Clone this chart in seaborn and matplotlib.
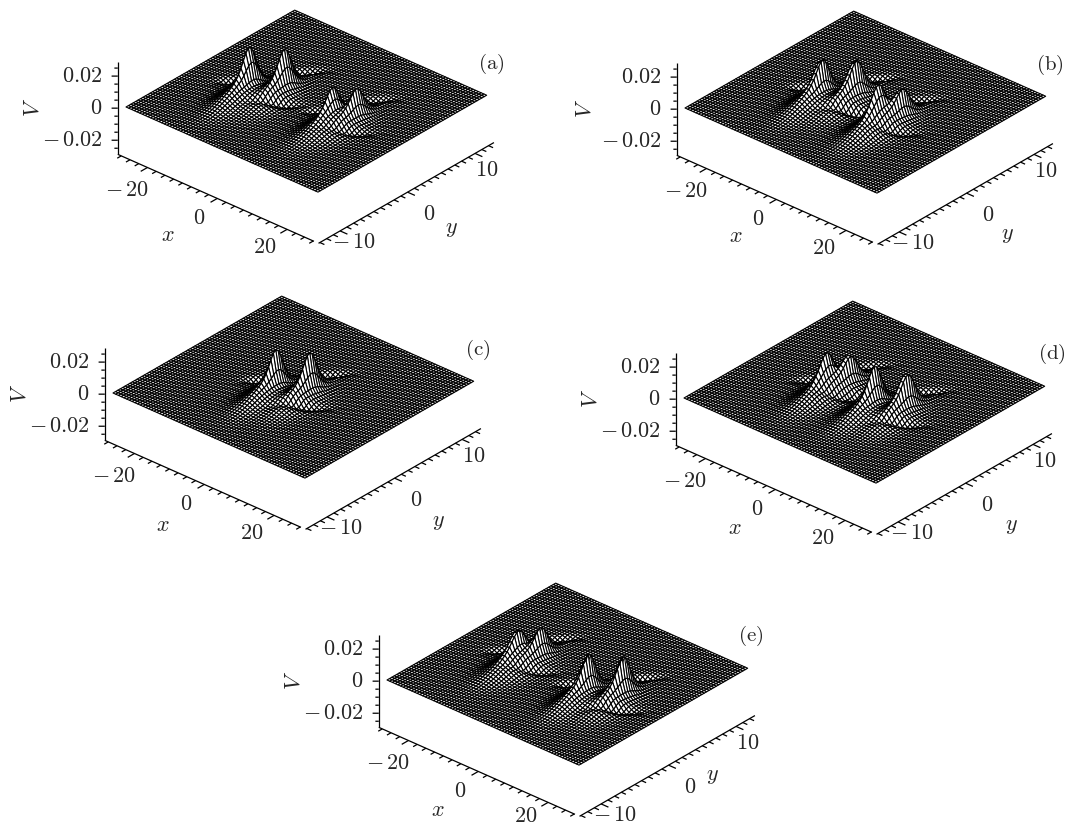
import numpy as np
import seaborn as sns
import matplotlib.pyplot as plt
from mpl_toolkits.mplot3d import proj3d

W_PX, H_PX = 1068, 825

# hump positions (x, y) and heights
# the plotted grid itself is not recoverable from the picture, so the sheet is
# rebuilt from these readings with a simple hump shape (an approximation)
panel_names = ["(a)", "(b)", "(c)", "(d)", "(e)"]
hump_x = [
    [-11.7, -6.3, 10.2, 13.2],
    [-8.2, -2.7, 8.7, 10.7],
    [-1.7, 4.6],
    [-6.35, -4.3, 6.2, 12.2],
    [-11.4, -8.8, 9.2, 15.5],
]
hump_y = [
    [-2.3, 0.07, -1.35, 0.6],
    [-2.2, 0.0, -2.5, -0.1],
    [-1.7, 0.05],
    [-2.3, 0.08, -1.65, 0.0],
    [-1.45, 0.6, -1.7, 0.2],
]
hump_v = [
    [0.030, 0.0285, 0.021, 0.021],
    [0.0285, 0.0285, 0.0235, 0.022],
    [0.0285, 0.0285],
    [0.022, 0.022, 0.0285, 0.0285],
    [0.021, 0.021, 0.029, 0.029],
]
# left corner of each sheet, tags and axis letters, in pixels
left_corner = [(126, 107), (685, 108), (113, 393), (684, 398), (387, 680)]
tag_pos = [(491, 64), (1050, 65), (478, 350), (1052, 354), (751, 636)]
x_letter = [(168, 235), (736, 236), (163, 525), (735, 528), (438, 810)]
y_letter = [(451, 229), (1007, 235), (438, 522), (1011, 526), (712, 776)]
v_letter = [(33, 107), (585, 108), (20, 393), (591, 398), (294, 680)]

x_major = [-20, 0, 20]
y_major = [-10, 0, 10]
z_major = [-0.02, 0, 0.02]
x_minor = np.arange(-27.5, 27.6, 2.5)
y_minor = np.arange(-13, 12.6, 1.0)
z_minor = np.arange(-0.025, 0.0251, 0.005)

# where the tick numbers sit relative to their ticks
x_label_x = [-20, 0.6, 19.4]
x_label_z = [-0.036, -0.0335, -0.033]
y_label_x = [33, 35.3, 32.4]
y_label_z = [-0.032, -0.0365, -0.036]
bottom_lift = [0, 0, 0, 0, 0.002]

XLIM = (-27.5, 27.5)
YLIM = (-12.5, 12.5)
ZLIM = (-0.0288, 0.0288)
X_AXIS = (-28.5, 27.7)
Y_AXIS = (-13.2, 12.8)
Y_AT = -13.2
X_AT = 29.0


def dip(dx, dy, at_x, at_y, long, thin):
    # trough lying along the horizontal of the picture
    a = 0.91 * (dx - at_x) + 0.41 * (dy - at_y)
    b = -0.41 * (dx - at_x) + 0.91 * (dy - at_y)
    return np.exp(-((a / long) ** 2) - ((b / thin) ** 2))


def hump(X, Y, cx, cy, v, right):
    dx = X - cx
    dy = Y - cy
    spike = 1 / np.cosh(dx / 0.95) ** 2 / np.cosh(dy / 1.35) ** 2
    base = np.exp(-((dx / 3.2) ** 2) - ((dy + 2.0) / 3.2) ** 2)
    if right:
        lows = dip(dx, dy, 2.6, -3.0, 4.0, 0.6) + dip(dx, dy, -2.3, 4.0, 3.0, 0.6)
    else:
        lows = dip(dx, dy, -6.0, 0.5, 2.2, 0.6)
    return v * (0.74 * spike + 0.26 * base - 0.10 * lows)


def sheet(xs, ys, vs):
    X, Y = np.meshgrid(np.linspace(*XLIM, 71), np.linspace(*YLIM, 71))
    Z = np.zeros_like(X)
    for k, (cx, cy, v) in enumerate(zip(xs, ys, vs)):
        Z += hump(X, Y, cx, cy, v, k % 2 == 1)
    return X, Y, Z


def to_px(ax, x, y, z):
    px, py, _ = proj3d.proj_transform(x, y, z, ax.get_proj())
    return ax.transData.transform((px, py))


def place(ax, left):
    # scale, then shift, so the sheet corner lands on the reference pixel
    start = to_px(ax, XLIM[0], YLIM[0], 0)
    end = to_px(ax, XLIM[1], YLIM[0], 0)
    zoom = 192.0 / (end[0] - start[0])
    ax.set_box_aspect((1, 1, 0.4185), zoom=zoom)
    start = to_px(ax, XLIM[0], YLIM[0], 0)
    pos = ax.get_position()
    ax.set_position([
        pos.x0 + (left[0] - start[0]) / W_PX,
        pos.y0 + (H_PX - left[1] - start[1]) / H_PX,
        pos.width, pos.height,
    ])


def label(ax, x, y, z, s, **kw):
    px = to_px(ax, x, y, z)
    fig.text(px[0] / W_PX, px[1] / H_PX, s, va="center", fontsize=16, **kw)


def letter(pos, s, **kw):
    fig.text(pos[0] / W_PX, 1 - pos[1] / H_PX, s, ha="center", va="center", **kw)


def axes_frame(ax):
    style = dict(color="black", lw=0.9, solid_capstyle="butt")
    zb = ZLIM[0]
    ax.plot(X_AXIS, [Y_AT, Y_AT], [zb, zb], **style)
    ax.plot([X_AT, X_AT], Y_AXIS, [zb, zb], **style)
    ax.plot([X_AXIS[0]] * 2, [Y_AT] * 2, [ZLIM[0], ZLIM[1]], **style)
    for t in x_minor:
        ln = 1.0 if t in x_major else 0.6
        ax.plot([t, t], [Y_AT, Y_AT - ln], [zb, zb], **style)
    for t in y_minor:
        ln = 2.1 if t in y_major else 1.3
        ax.plot([X_AT, X_AT + ln], [t, t], [zb, zb], **style)
    for t in list(z_minor):
        ln = 1.0 if round(t, 3) in z_major else 0.55
        ax.plot([X_AXIS[0], X_AXIS[0] - ln], [Y_AT, Y_AT - 0.4 * ln], [t, t], **style)


def axes_labels(ax, i):
    for t, lx, lz in zip(x_major, x_label_x, x_label_z):
        lab = rf"$-\,{-t}$" if t < 0 else rf"${t}$"
        label(ax, lx, -16.2, lz + (bottom_lift[i] if t > 0 else 0), lab, ha="center")
    for t, lx, lz in zip(y_major, y_label_x, y_label_z):
        lab = rf"$-\,{-t}$" if t < 0 else rf"${t}$"
        label(ax, lx, t, lz, lab, ha="center")
    for t in z_major:
        lab = r"$-\,0.02$" if t < 0 else (r"$0$" if t == 0 else r"$0.02$")
        label(ax, -30.9, -14.2, t, lab, ha="right")
    letter(x_letter[i], r"$x$", fontsize=16)
    letter(y_letter[i], r"$y$", fontsize=16)
    letter(v_letter[i], r"$V$", fontsize=16, rotation=90)
    letter(tag_pos[i], rf"$\mathrm{{{panel_names[i]}}}$", fontsize=15)


sns.set_theme(style="white", rc={"mathtext.fontset": "cm", "font.family": "serif", "font.serif": ["cmr10"],
                                 "axes.formatter.use_mathtext": True})

fig = plt.figure(figsize=(W_PX / 100, H_PX / 100), dpi=100)

for i in range(len(panel_names)):
    size = 500
    ax = fig.add_axes([(left_corner[i][0] - 100) / W_PX, 0.1, size / W_PX, size / H_PX], projection="3d", proj_type="ortho")
    ax.patch.set_visible(False)
    ax.view_init(elev=30.3, azim=-48.7)
    ax.set_xlim(*XLIM, view_margin=0)
    ax.set_ylim(*YLIM, view_margin=0)
    ax.set_zlim(*ZLIM, view_margin=0)
    ax.set_box_aspect((1, 1, 0.4185))
    ax.set_axis_off()
    X, Y, Z = sheet(hump_x[i], hump_y[i], hump_v[i])
    ax.plot_surface(X, Y, Z, rstride=1, cstride=1, color="white", edgecolor="black",
                    linewidth=0.8, shade=False, antialiased=True)
    axes_frame(ax)
    place(ax, left_corner[i])
    axes_labels(ax, i)

fig.savefig("out.png", dpi=100)
